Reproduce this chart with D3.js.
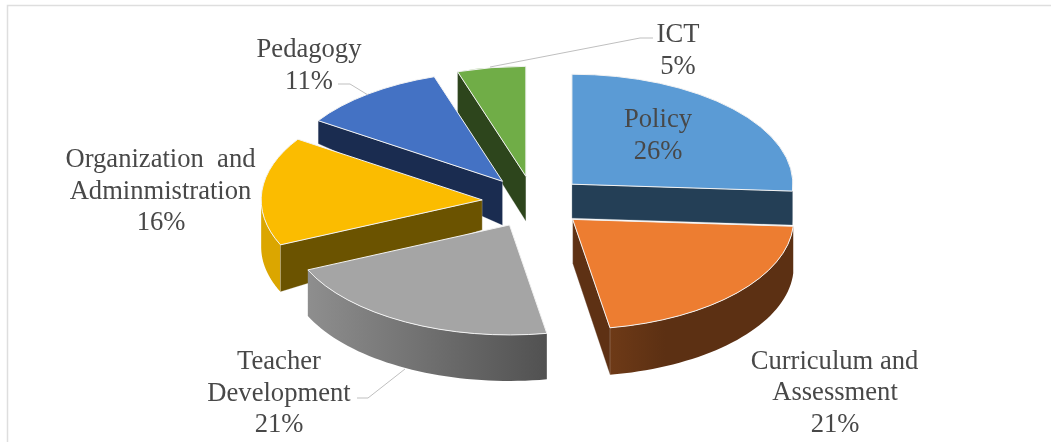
<!DOCTYPE html>
<html>
<head>
<meta charset="utf-8">
<script src="https://cdn.jsdelivr.net/npm/d3@7"></script>
<style>
  html, body { margin: 0; padding: 0; background: #fff; }
  svg { display: block; filter: blur(0.4px); }
  text { font-family: "Liberation Serif", serif; font-size: 26.6px; fill: #484848; }
</style>
</head>
<body>
<svg id="chart" width="1051" height="442"></svg>
<script>
// values, the labels round these to whole percents
const categories = ['Policy', 'Curriculum and Assessment', 'Teacher Development',
                    'Organization and Adminmistration', 'Pedagogy', 'ICT'];
const shares = [26, 21.3, 21, 16, 10.7, 5];

// colours per slice
const top_colors = ['#5b9bd5', '#ed7d31', '#a5a5a5', '#fbbc00', '#4472c4', '#70ad47'];
const wall_colors = ['#243f56', '#5e3114', '#666666', '#6b5300', '#1a2c50', '#2d451c'];
const rim_from = ['#243f56', '#6e3a17', '#8e8e8e', '#dba600', '#1a2c50', '#2d451c'];
const rim_to = ['#243f56', '#5c3013', '#515151', '#dba600', '#1a2c50', '#2d451c'];
const rim_stop = [1, 0.3, 1, 1, 1, 1];

// wall height at the apex and at the rim, the picture is not a clean projection
const depth_apex = [34, 44, 45, 30, 44, 45];
const depth_rim = [34, 47, 46, 47, 23, 41];

const center = {x: 534, y: 202};
const rx = 221, ry = 110;
const explode = {x: 52, y: 26};
const draw_order = [5, 4, 3, 2, 0, 1];

const svg = d3.select('#chart');

// frame
svg.append('path')
    .attr('d', 'M7.5,442V5.5H1051')
    .attr('fill', 'none')
    .attr('stroke', '#dedede')
    .attr('stroke-width', 1.5);

const slices = d3.pie().sort(null)(shares);
const arc = d3.arc().innerRadius(0).outerRadius(rx);
const line = d3.line();
const xscale = d3.scaleLinear().domain([-1, 1]).range([-rx, rx]);
const yscale = d3.scaleLinear().domain([-1, 1]).range([ry, -ry]);

const defs = svg.append('defs');
const rim_point = a => [xscale(Math.sin(a)), yscale(Math.cos(a))];

draw_order.forEach(i => {
    const d = slices[i];
    const mid = (d.startAngle + d.endAngle) / 2;
    const ax = center.x + explode.x * Math.sin(mid);
    const ay = center.y - explode.y * Math.cos(mid);
    const g = svg.append('g').attr('transform', `translate(${ax},${ay})`);

    // outer wall, only the part that faces the viewer
    const a0 = Math.max(d.startAngle, Math.PI / 2);
    const a1 = Math.min(d.endAngle, Math.PI * 1.5);
    if (a1 > a0) {
        const angles = d3.range(0, 41).map(k => a0 + (a1 - a0) * k / 40);
        const upper = angles.map(rim_point);
        const lower = angles.map(a => {
            const p = rim_point(a);
            return [p[0], p[1] + depth_rim[i]];
        }).reverse();
        const xs = d3.extent(upper, p => p[0]);
        const grad = defs.append('linearGradient')
            .attr('id', 'rim' + i)
            .attr('gradientUnits', 'userSpaceOnUse')
            .attr('x1', xs[0]).attr('x2', xs[1]).attr('y1', 0).attr('y2', 0);
        grad.append('stop').attr('offset', 0).attr('stop-color', rim_from[i]);
        grad.append('stop').attr('offset', rim_stop[i]).attr('stop-color', rim_to[i]);
        g.append('path')
            .attr('d', line(upper.concat(lower)) + 'Z')
            .attr('fill', `url(#rim${i})`);
    }

    // flat walls from the apex to the rim
    const wall = (a) => {
        const p = rim_point(a);
        g.append('path')
            .attr('d', line([[0, 0], p, [p[0], p[1] + depth_rim[i]], [0, depth_apex[i]]]) + 'Z')
            .attr('fill', wall_colors[i])
            .attr('stroke', '#e8e8e8')
            .attr('stroke-width', 0.5)
            .attr('stroke-opacity', 0.5);
    };
    if (Math.sin(d.startAngle) < -1e-6) wall(d.startAngle);
    if (Math.sin(d.endAngle) > 1e-6) wall(d.endAngle);

    // top face
    g.append('path')
        .attr('transform', `scale(1,${ry / rx})`)
        .attr('d', arc(d))
        .attr('fill', top_colors[i])
        .attr('stroke', '#f2f2f2')
        .attr('stroke-width', 1)
        .attr('vector-effect', 'non-scaling-stroke');
});

// leader lines
const leaders = [
    [[338, 84], [350, 84], [368, 95]],
    [[653, 38], [640, 38], [490, 67]],
    [[357, 398], [368, 398], [405, 369]]
];
svg.append('g').selectAll('path')
    .data(leaders)
    .join('path')
    .attr('d', d => line(d))
    .attr('fill', 'none')
    .attr('stroke', '#bfbfbf')
    .attr('stroke-width', 1);

// labels, one text per line
const pct = i => Math.round(shares[i]) + '%';
const labels = [
    {x: 658, y: 127, t: 'Policy'},
    {x: 658, y: 159, t: pct(0)},
    {x: 834.5, y: 369, t: 'Curriculum and'},
    {x: 835, y: 400, t: 'Assessment'},
    {x: 835, y: 432, t: pct(1)},
    {x: 279, y: 369, t: 'Teacher'},
    {x: 279, y: 401, t: 'Development'},
    {x: 279, y: 432, t: pct(2)},
    {x: 160.5, y: 167, t: 'Organization  and'},
    {x: 160.5, y: 199, t: 'Adminmistration'},
    {x: 161, y: 230, t: pct(3)},
    {x: 309, y: 57, t: 'Pedagogy'},
    {x: 309, y: 89, t: pct(4)},
    {x: 678, y: 42, t: 'ICT'},
    {x: 678, y: 74, t: pct(5)}
];
svg.append('g').selectAll('text')
    .data(labels)
    .join('text')
    .attr('x', d => d.x)
    .attr('y', d => d.y)
    .attr('text-anchor', 'middle')
    .style('white-space', 'pre')
    .text(d => d.t);
</script>
</body>
</html>
